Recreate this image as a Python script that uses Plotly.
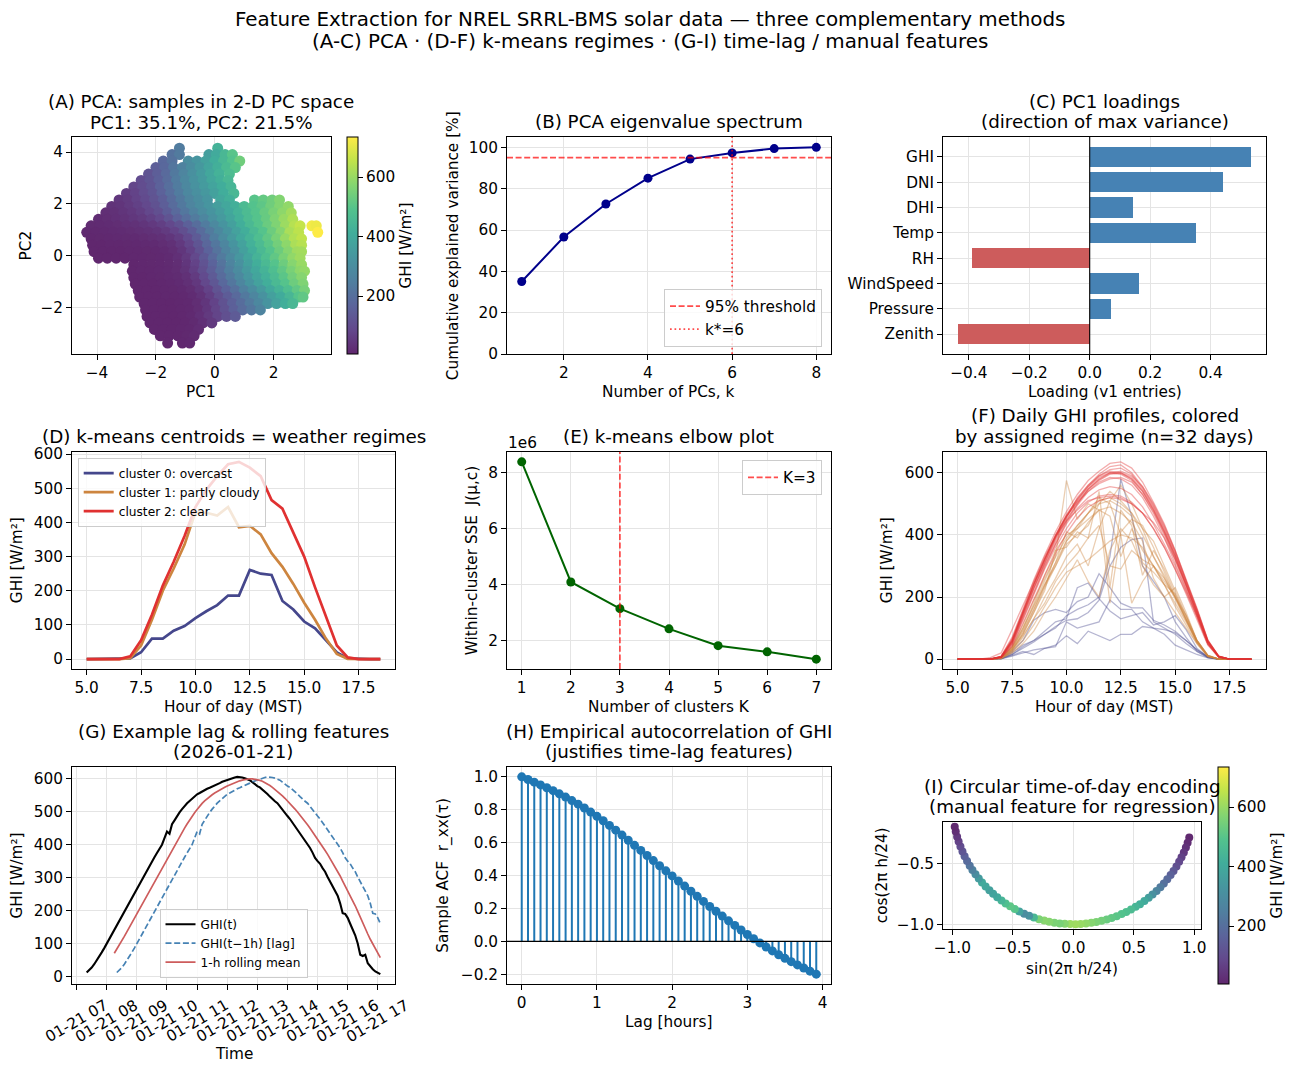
import numpy as np
import pandas as pd
import plotly.graph_objects as go

W, H = 1299, 1074
FONT = "DejaVu Sans"

# ---------------- (A) PCA scores (rows of PC2, points along PC1) ----------------
a_row_pc2 = [4.15, 3.9, 3.65, 3.4, 3.15, 2.9, 2.65, 2.4, 2.15, 1.9, 1.65, 1.4, 1.15, 0.9, 0.65, 0.4,
             0.15, -0.1, -0.35, -0.6, -0.85, -1.1, -1.35, -1.6, -1.85, -2.1, -2.35, -2.6, -2.85, -3.1, -3.38]
a_row_pc1 = [
    [-1.2, 0.1],
    [-1.45, -1.2, -0.2, 0.05, 0.35, 0.6],
    [-1.75, -1.45, -0.9, -0.6, -0.3, 0.0, 0.3, 0.6, 0.85],
    [-2.0, -1.7, -1.4, -1.1, -0.8, -0.5, -0.2, 0.1, 0.4, 0.7],
    [-2.25, -1.95, -1.65, -1.35, -1.05, -0.75, -0.45, -0.15, 0.15, 0.5],
    [-2.5, -2.2, -1.9, -1.6, -1.3, -1.0, -0.7, -0.4, -0.1, 0.2, 0.45],
    [-2.75, -2.45, -2.15, -1.85, -1.55, -1.25, -0.95, -0.65, -0.35, -0.05, 0.25, 0.55],
    [-3.0, -2.7, -2.4, -2.1, -1.8, -1.5, -1.2, -0.9, -0.6, -0.3, 0.0, 0.3, 0.65],
    [-3.25, -2.95, -2.65, -2.35, -2.05, -1.75, -1.45, -1.15, -0.85, -0.55, -0.25, 0.2, 0.5, 1.35, 1.65, 1.95, 2.2],
    [-3.5, -3.2, -2.9, -2.6, -2.3, -2.0, -1.7, -1.4, -1.1, -0.8, -0.5, -0.2, 0.1, 0.4, 0.7, 1.0, 1.3, 1.6, 1.9, 2.2, 2.5],
    [-3.7, -3.4, -3.1, -2.8, -2.5, -2.2, -1.9, -1.6, -1.3, -1.0, -0.7, -0.4, -0.1, 0.2, 0.5, 0.8, 1.1, 1.4, 1.7, 2.0, 2.3, 2.6],
    [-3.95, -3.65, -3.35, -3.05, -2.75, -2.45, -2.15, -1.85, -1.55, -1.25, -0.95, -0.65, -0.35, -0.05, 0.25, 0.55, 0.85, 1.15, 1.45, 1.75, 2.05, 2.35, 2.65],
    [-4.2, -3.9, -3.6, -3.3, -3.0, -2.7, -2.4, -2.1, -1.8, -1.5, -1.2, -0.9, -0.6, -0.3, 0.0, 0.3, 0.6, 0.9, 1.2, 1.5, 1.8, 2.1, 2.4, 2.7, 2.9, 3.3, 3.45],
    [-4.35, -4.05, -3.75, -3.45, -3.15, -2.85, -2.55, -2.25, -1.95, -1.65, -1.35, -1.05, -0.75, -0.45, -0.15, 0.15, 0.45, 0.75, 1.05, 1.35, 1.65, 1.95, 2.25, 2.55, 2.85, 3.5],
    [-4.2, -3.9, -3.6, -3.3, -3.0, -2.7, -2.4, -2.1, -1.8, -1.5, -1.2, -0.9, -0.6, -0.3, 0.0, 0.3, 0.6, 0.9, 1.2, 1.5, 1.8, 2.1, 2.4, 2.7, 2.95],
    [-4.15, -3.85, -3.55, -3.25, -2.95, -2.65, -2.35, -2.05, -1.75, -1.45, -1.15, -0.85, -0.55, -0.25, 0.05, 0.35, 0.65, 0.95, 1.25, 1.55, 1.85, 2.15, 2.45, 2.75, 2.95],
    [-4.1, -3.8, -3.5, -3.2, -2.9, -2.6, -2.3, -2.0, -1.7, -1.4, -1.1, -0.8, -0.5, -0.2, 0.1, 0.4, 0.7, 1.0, 1.3, 1.6, 1.9, 2.2, 2.5, 2.8, 2.95],
    [-3.95, -3.65, -3.35, -3.05, -2.75, -2.45, -2.15, -1.85, -1.55, -1.25, -0.95, -0.65, -0.35, -0.05, 0.25, 0.55, 0.85, 1.15, 1.45, 1.75, 2.05, 2.35, 2.65, 2.9],
    [-2.75, -2.45, -2.15, -1.85, -1.55, -1.25, -0.95, -0.65, -0.35, -0.05, 0.25, 0.55, 0.85, 1.15, 1.45, 1.75, 2.05, 2.35, 2.65, 2.95],
    [-2.8, -2.5, -2.2, -1.9, -1.6, -1.3, -1.0, -0.7, -0.4, -0.1, 0.2, 0.5, 0.8, 1.1, 1.4, 1.7, 2.0, 2.3, 2.6, 2.9, 3.05],
    [-2.75, -2.45, -2.15, -1.85, -1.55, -1.25, -0.95, -0.65, -0.35, -0.05, 0.25, 0.55, 0.85, 1.15, 1.45, 1.75, 2.05, 2.35, 2.65, 2.95],
    [-2.7, -2.4, -2.1, -1.8, -1.5, -1.2, -0.9, -0.6, -0.3, 0.0, 0.3, 0.6, 0.9, 1.2, 1.5, 1.8, 2.1, 2.4, 2.7, 3.0],
    [-2.6, -2.3, -2.0, -1.7, -1.4, -1.1, -0.8, -0.5, -0.2, 0.1, 0.4, 0.7, 1.0, 1.3, 1.6, 1.9, 2.2, 2.5, 2.8, 3.05],
    [-2.55, -2.25, -1.95, -1.65, -1.35, -1.05, -0.75, -0.45, -0.15, 0.15, 0.45, 0.75, 1.05, 1.35, 1.65, 1.95, 2.25, 2.55, 2.85, 3.0],
    [-2.4, -2.1, -1.8, -1.5, -1.2, -0.9, -0.6, -0.3, 0.0, 0.3, 0.6, 0.9, 1.2, 1.5, 1.8, 2.1, 2.4, 2.65],
    [-2.35, -2.05, -1.75, -1.45, -1.15, -0.85, -0.55, -0.25, 0.05, 0.35, 0.65, 0.95, 1.25, 1.55],
    [-2.3, -2.0, -1.7, -1.4, -1.1, -0.8, -0.5, -0.2, 0.1, 0.4, 0.7],
    [-2.2, -1.9, -1.6, -1.3, -1.0, -0.7, -0.4, -0.1],
    [-2.05, -1.75, -1.45, -1.15, -0.85, -0.55],
    [-1.85, -1.55, -1.25, -0.95, -0.7],
    [-1.6, -1.1, -0.85],
]
a_row_ghi = [
    [240, 430],
    [210, 235, 360, 400, 450, 500],
    [180, 210, 300, 330, 370, 410, 450, 490, 540],
    [150, 180, 220, 260, 300, 340, 380, 420, 460, 500],
    [120, 150, 185, 230, 270, 310, 350, 390, 430, 470],
    [100, 125, 155, 190, 240, 280, 320, 350, 390, 420, 450],
    [80, 100, 125, 160, 200, 240, 280, 320, 350, 380, 410, 440],
    [60, 75, 100, 125, 160, 200, 240, 280, 310, 340, 370, 410, 450],
    [45, 55, 75, 95, 120, 150, 190, 230, 270, 300, 330, 390, 420, 500, 520, 540, 570],
    [35, 40, 55, 70, 90, 115, 150, 190, 230, 270, 300, 330, 360, 390, 420, 460, 490, 510, 540, 570, 590],
    [25, 30, 40, 50, 65, 85, 110, 145, 185, 225, 260, 295, 325, 355, 395, 430, 465, 495, 525, 555, 585, 615],
    [18, 22, 28, 35, 45, 55, 70, 90, 120, 160, 200, 235, 275, 315, 345, 385, 425, 465, 495, 525, 565, 600, 630],
    [14, 15, 18, 22, 28, 32, 40, 50, 65, 85, 115, 155, 195, 240, 285, 325, 365, 415, 455, 495, 530, 565, 605, 640, 660, 720, 715],
    [10, 11, 13, 15, 18, 22, 26, 32, 40, 55, 75, 105, 145, 190, 235, 280, 325, 375, 415, 455, 495, 535, 575, 625, 650, 735],
    [8, 9, 10, 12, 14, 16, 19, 24, 30, 42, 62, 95, 140, 190, 245, 295, 345, 395, 435, 475, 515, 555, 600, 635, 655],
    [5, 6, 7, 8, 9, 11, 13, 16, 21, 30, 50, 80, 125, 175, 225, 275, 325, 375, 425, 465, 505, 545, 585, 625, 640],
    [5, 5, 6, 6, 7, 8, 9, 11, 15, 24, 42, 72, 115, 165, 215, 265, 315, 365, 415, 455, 495, 535, 575, 610, 615],
    [5, 5, 5, 6, 7, 8, 9, 11, 16, 28, 52, 88, 135, 185, 235, 285, 335, 385, 435, 475, 515, 555, 590, 610],
    [6, 7, 9, 11, 14, 22, 42, 75, 118, 165, 215, 265, 315, 365, 415, 455, 495, 535, 575, 600],
    [6, 7, 8, 10, 13, 19, 36, 65, 105, 150, 200, 250, 295, 345, 395, 435, 475, 515, 555, 585, 595],
    [5, 6, 7, 9, 12, 17, 30, 55, 95, 140, 190, 235, 285, 335, 385, 425, 465, 505, 545, 575],
    [5, 5, 6, 8, 11, 15, 26, 48, 85, 130, 180, 225, 275, 325, 375, 415, 455, 495, 535, 565],
    [5, 5, 6, 7, 9, 13, 22, 42, 75, 120, 165, 205, 255, 300, 345, 395, 435, 475, 515, 550],
    [5, 5, 6, 7, 8, 11, 18, 35, 65, 105, 145, 185, 230, 275, 320, 365, 405, 445, 495, 515],
    [5, 5, 6, 6, 8, 11, 22, 42, 75, 115, 155, 195, 235, 280, 325, 375, 415, 450],
    [5, 5, 5, 6, 7, 10, 22, 45, 78, 115, 155, 190, 225, 265],
    [5, 5, 5, 6, 7, 12, 28, 52, 78, 108, 140],
    [5, 5, 5, 6, 8, 14, 28, 52],
    [5, 5, 5, 7, 10, 20],
    [5, 5, 6, 9, 14],
    [5, 7, 10],
]

# ---------------- (B) PCA eigenvalue spectrum ----------------
n_pcs = [1, 2, 3, 4, 5, 6, 7, 8]
cum_var = [35.1, 56.6, 72.6, 85.1, 94.3, 97.3, 99.4, 100.0]
var_threshold = 95
k_star = 6

# ---------------- (C) PC1 loadings ----------------
features = ["GHI", "DNI", "DHI", "Temp", "RH", "WindSpeed", "Pressure", "Zenith"]
pc1_loadings = [0.535, 0.442, 0.143, 0.352, -0.388, 0.163, 0.071, -0.437]

# ---------------- (D) k-means centroids ----------------
hours_half = [5.0, 5.5, 6.0, 6.5, 7.0, 7.5, 8.0, 8.5, 9.0, 9.5, 10.0, 10.5, 11.0, 11.5,
              12.0, 12.5, 13.0, 13.5, 14.0, 14.5, 15.0, 15.5, 16.0, 16.5, 17.0, 17.5, 18.0, 18.5]
centroid_overcast = [0, 0, 0, 0, 2, 20, 60, 60, 83, 97, 120, 140, 158, 186, 186, 261, 250, 246, 170, 145, 110, 90, 55, 20, 2, 0, 0, 0]
centroid_partly = [0, 0, 0, 0, 3, 40, 115, 200, 265, 335, 430, 428, 420, 445, 386, 390, 365, 310, 270, 220, 165, 115, 60, 15, 1, 0, 0, 0]
centroid_clear = [0, 0, 0, 0, 8, 55, 130, 215, 285, 360, 445, 495, 535, 570, 577, 560, 535, 465, 440, 370, 300, 210, 125, 40, 5, 0, 0, 0]
regime_names = ["cluster 0: overcast", "cluster 1: partly cloudy", "cluster 2: clear"]

# ---------------- (E) elbow ----------------
k_values = [1, 2, 3, 4, 5, 6, 7]
sse_values = [8.38e6, 4.10e6, 3.15e6, 2.43e6, 1.83e6, 1.61e6, 1.35e6]
k_elbow = 3

# ---------------- (F) daily profiles by regime ----------------
days_overcast = [
    [0, 0, 0, 0, 3, 25, 60, 125, 150, 160, 150, 185, 200, 275, 230, 180, 165, 165, 125, 110, 90, 60, 30, 8, 1, 0, 0, 0],
    [0, 0, 0, 0, 2, 15, 35, 55, 80, 105, 125, 130, 150, 190, 300, 360, 385, 390, 120, 100, 80, 50, 25, 6, 0, 0, 0, 0],
    [0, 0, 0, 0, 1, 10, 20, 30, 35, 45, 75, 50, 90, 75, 60, 80, 80, 105, 100, 80, 45, 30, 15, 4, 0, 0, 0, 0],
    [0, 0, 0, 0, 2, 12, 25, 15, 35, 40, 120, 100, 110, 120, 190, 160, 160, 120, 100, 95, 85, 60, 30, 8, 0, 0, 0, 0],
    [0, 0, 0, 0, 2, 15, 40, 60, 90, 120, 130, 230, 245, 195, 155, 130, 140, 150, 110, 120, 140, 95, 35, 6, 0, 0, 0, 0],
    [0, 0, 0, 0, 3, 20, 45, 60, 80, 100, 140, 160, 175, 200, 330, 580, 460, 300, 250, 200, 120, 70, 25, 5, 0, 0, 0, 0],
]
days_partly = [
    [0, 0, 0, 0, 5, 40, 110, 190, 260, 330, 575, 450, 500, 480, 460, 330, 420, 350, 300, 240, 180, 120, 55, 10, 0, 0, 0, 0],
    [0, 0, 0, 0, 4, 35, 100, 170, 240, 300, 370, 400, 430, 500, 540, 510, 470, 400, 330, 260, 190, 120, 55, 10, 0, 0, 0, 0],
    [0, 0, 0, 0, 3, 30, 80, 150, 220, 350, 360, 410, 390, 540, 230, 480, 430, 270, 350, 290, 210, 130, 60, 12, 0, 0, 0, 0],
    [0, 0, 0, 0, 4, 35, 90, 160, 240, 310, 380, 430, 470, 520, 500, 400, 180, 250, 300, 250, 200, 140, 60, 12, 0, 0, 0, 0],
    [0, 0, 0, 0, 3, 25, 70, 130, 200, 260, 330, 370, 300, 420, 510, 560, 500, 420, 380, 300, 220, 140, 60, 10, 0, 0, 0, 0],
    [0, 0, 0, 0, 4, 40, 100, 180, 270, 350, 400, 420, 450, 480, 490, 470, 440, 380, 260, 200, 230, 150, 60, 12, 0, 0, 0, 0],
    [0, 0, 0, 0, 2, 20, 50, 90, 150, 200, 260, 320, 250, 200, 350, 420, 380, 300, 240, 200, 150, 100, 50, 8, 0, 0, 0, 0],
    [0, 0, 0, 0, 3, 30, 80, 150, 230, 300, 380, 420, 470, 510, 520, 500, 470, 420, 330, 270, 200, 130, 55, 10, 0, 0, 0, 0],
    [0, 0, 0, 0, 3, 28, 75, 130, 180, 250, 300, 340, 390, 430, 300, 290, 350, 320, 300, 260, 200, 130, 55, 10, 0, 0, 0, 0],
    [0, 0, 0, 0, 4, 35, 95, 175, 250, 330, 390, 430, 470, 500, 510, 490, 460, 310, 280, 240, 210, 140, 60, 12, 0, 0, 0, 0],
    [0, 0, 0, 0, 2, 22, 60, 110, 170, 230, 280, 300, 320, 350, 380, 400, 390, 360, 300, 240, 170, 110, 50, 8, 0, 0, 0, 0],
    [0, 0, 0, 0, 3, 30, 85, 160, 240, 310, 410, 390, 440, 480, 180, 410, 450, 430, 360, 280, 200, 130, 58, 10, 0, 0, 0, 0],
]
days_clear = [
    [0, 0, 0, 0, 8, 60, 150, 240, 320, 395, 460, 510, 555, 590, 610, 615, 595, 550, 490, 420, 340, 250, 160, 60, 10, 0, 0, 0],
    [0, 0, 0, 0, 6, 55, 140, 230, 310, 385, 450, 500, 545, 575, 595, 600, 580, 540, 480, 410, 330, 240, 150, 55, 8, 0, 0, 0],
    [0, 0, 0, 0, 10, 70, 160, 255, 335, 410, 475, 530, 575, 605, 630, 635, 615, 570, 505, 435, 350, 260, 165, 62, 10, 0, 0, 0],
    [0, 0, 0, 5, 20, 95, 170, 250, 330, 400, 465, 515, 555, 585, 600, 595, 575, 530, 470, 400, 320, 230, 140, 50, 6, 0, 0, 0],
    [0, 0, 0, 0, 5, 45, 125, 210, 290, 360, 420, 470, 505, 525, 530, 525, 505, 470, 420, 360, 290, 210, 130, 45, 6, 0, 0, 0],
    [0, 0, 0, 0, 6, 50, 135, 220, 300, 370, 435, 485, 520, 545, 555, 550, 530, 490, 435, 370, 300, 220, 140, 50, 7, 0, 0, 0],
    [0, 0, 0, 0, 8, 60, 150, 240, 320, 400, 460, 505, 540, 565, 580, 585, 570, 530, 475, 405, 325, 240, 150, 55, 8, 0, 0, 0],
    [0, 0, 0, 0, 7, 55, 145, 230, 310, 390, 455, 520, 560, 590, 605, 600, 585, 545, 485, 415, 335, 245, 155, 58, 9, 0, 0, 0],
    [0, 0, 0, 0, 9, 65, 155, 245, 325, 395, 445, 480, 510, 520, 525, 520, 500, 470, 440, 390, 320, 240, 150, 55, 8, 0, 0, 0],
    [0, 0, 0, 0, 7, 58, 148, 238, 318, 392, 458, 508, 548, 578, 598, 605, 590, 555, 500, 430, 350, 255, 160, 60, 10, 0, 0, 0],
    [0, 0, 0, 0, 6, 48, 130, 215, 295, 370, 440, 495, 540, 570, 585, 580, 560, 520, 460, 390, 310, 225, 140, 50, 7, 0, 0, 0],
    [0, 0, 0, 0, 8, 62, 152, 242, 322, 398, 462, 515, 560, 595, 620, 625, 600, 555, 495, 425, 345, 255, 160, 60, 10, 0, 0, 0],
    [0, 0, 0, 0, 5, 40, 115, 195, 270, 340, 405, 455, 490, 510, 520, 515, 500, 470, 420, 360, 290, 215, 135, 48, 6, 0, 0, 0],
    [0, 0, 0, 0, 7, 52, 140, 228, 305, 378, 445, 500, 548, 580, 600, 598, 580, 540, 480, 410, 332, 242, 152, 56, 8, 0, 0, 0],
]

# ---------------- (G) example day (5-min GHI) ----------------
g_day_label = "2026-01-21"
g_start = "2026-01-21 07:20"
g_step_min = 5
g_lag_steps = 12      # 1 h
g_roll_steps = 12     # 1 h
ghi_g = [12, 19, 27, 37, 48, 60, 73, 86,
         100, 114, 128, 142, 156, 170, 184, 198, 212, 226, 240, 254,
         268, 282, 296, 310, 323, 336, 349, 362, 375, 388, 400, 420,
         440, 433, 462, 474, 488, 498, 508, 518, 526, 533, 540, 547,
         553, 557, 562, 566, 570, 573, 576, 580, 584, 587, 591, 594,
         597, 600, 602, 604, 606, 606, 604, 602, 600, 596, 590, 583,
         578, 574, 568, 561, 554, 546, 538, 532, 526, 516, 505, 494,
         487, 478, 467, 456, 447, 437, 426, 414, 402, 390, 376, 360,
         350, 342, 329, 318, 302, 288, 270, 258, 245, 222, 192, 190,
         178, 160, 145, 125, 100, 66, 62, 66, 40, 30, 22, 15,
         10, 7]
g_tick_hours = [7, 8, 9, 10, 11, 12, 13, 14, 15, 16, 17]

# ---------------- (H) autocorrelation ----------------
lag_minutes = [0, 5, 10, 15, 20, 25, 30, 35, 40, 45, 50, 55,
               60, 65, 70, 75, 80, 85, 90, 95, 100, 105, 110, 115,
               120, 125, 130, 135, 140, 145, 150, 155, 160, 165, 170, 175,
               180, 185, 190, 195, 200, 205, 210, 215, 220, 225, 230, 235]
acf_vals = [1.000, 0.984, 0.968, 0.951, 0.934, 0.916, 0.897, 0.877, 0.856, 0.834, 0.811, 0.786,
            0.760, 0.733, 0.705, 0.676, 0.646, 0.615, 0.584, 0.553, 0.522, 0.491, 0.460, 0.429,
            0.398, 0.367, 0.336, 0.305, 0.274, 0.243, 0.212, 0.183, 0.154, 0.125, 0.097, 0.069,
            0.042, 0.016, -0.009, -0.034, -0.058, -0.081, -0.103, -0.123, -0.143, -0.162, -0.181, -0.199]

# ---------------- (I) circular time-of-day encoding ----------------
hours_i = [7.10, 7.27, 7.43, 7.60, 7.77, 7.93, 8.10, 8.27, 8.43, 8.60, 8.77, 8.93,
           9.10, 9.27, 9.43, 9.60, 9.77, 9.93, 10.10, 10.27, 10.43, 10.60, 10.77, 10.93,
           11.10, 11.27, 11.43, 11.60, 11.77, 11.93, 12.10, 12.27, 12.43, 12.60, 12.77, 12.93,
           13.10, 13.27, 13.43, 13.60, 13.77, 13.93, 14.10, 14.27, 14.43, 14.60, 14.77, 14.93,
           15.10, 15.27, 15.43, 15.60, 15.77, 15.93, 16.10, 16.27, 16.43, 16.60, 16.77, 16.93,
           17.10, 17.25]
ghi_i = [10, 20, 35, 50, 70, 90, 110, 135, 160, 185, 205, 235,
         270, 310, 360, 400, 420, 440, 465, 480, 490, 505, 515, 530,
         545, 560, 575, 590, 600, 610, 605, 575, 555, 560, 575, 580,
         560, 450, 320, 300, 380, 500, 510, 480, 440, 400, 380, 370,
         390, 400, 350, 300, 260, 220, 190, 160, 130, 100, 75, 50,
         25, 10]

# =====================================================================
def blend(hexc, a=0.85):
    hexc = hexc.lstrip("#")
    r, g, b = (int(hexc[i:i + 2], 16) for i in (0, 2, 4))
    return "rgb(%d,%d,%d)" % tuple(round(a * c + (1 - a) * 255) for c in (r, g, b))


VIRIDIS = ["#440154", "#482878", "#3e4989", "#31688e", "#26828e",
           "#1f9e89", "#35b779", "#6ece58", "#b5de2b", "#fde725"]
VIR_FADED = [[i / (len(VIRIDIS) - 1), blend(c, 0.85)] for i, c in enumerate(VIRIDIS)]

C_OVER, C_PART, C_CLEAR = "#45478c", "#cd853f", "#e03131"

FS_TICK = 15.3
FS_TITLE = 18.3
FS_SUP = 19.9
FS_LEG_S = 12.2


def rgba(hexc, a):
    hexc = hexc.lstrip("#")
    r, g, b = (int(hexc[i:i + 2], 16) for i in (0, 2, 4))
    return "rgba(%d,%d,%d,%.2f)" % (r, g, b, a)


def pad(lo, hi, f=0.05):
    d = (hi - lo) * f
    return [lo - d, hi + d]


def xd(l, r):
    return [l / W, r / W]


def yd(t, b):
    return [1 - b / H, 1 - t / H]


TICKFONT = dict(family=FONT, size=FS_TICK, color="black")


def axis(domain, rng, anchor, **kw):
    d = dict(domain=domain, range=rng, anchor=anchor, showline=True, linecolor="black",
             linewidth=1.1, mirror=True, ticks="outside", ticklen=4.9, tickwidth=1.1,
             tickcolor="black", showgrid=True, gridcolor="#e4e4e4", gridwidth=1,
             zeroline=False, tickfont=TICKFONT, automargin=False, fixedrange=True)
    d.update(kw)
    return d


def cbar(left, top, bot):
    return dict(x=left / W, xanchor="left", y=1 - (top + bot) / 2 / H, yanchor="middle",
                len=(bot - top) / H, lenmode="fraction", thickness=11, thicknessmode="pixels",
                xpad=0, ypad=0, outlinecolor="black", outlinewidth=1, ticks="outside",
                ticklen=4.9, tickwidth=1.1, tickcolor="black", tick0=0, dtick=200,
                tickfont=TICKFONT,
                title=dict(text="GHI [W/m²]", side="right", font=TICKFONT))


fig = go.Figure()

# ---- A ----
pc1_a = [x for row in a_row_pc1 for x in row]
pc2_a = [y for y, row in zip(a_row_pc2, a_row_pc1) for _ in row]
ghi_a = [g for row in a_row_ghi for g in row]
gmin, gmax = min(ghi_a), max(ghi_a)
fig.add_trace(go.Scatter(x=pc1_a, y=pc2_a, mode="markers", xaxis="x", yaxis="y", showlegend=False,
                         marker=dict(color=ghi_a, colorscale=VIR_FADED, cmin=gmin, cmax=gmax, size=11,
                                     line=dict(width=0), colorbar=cbar(347, 137, 354))))

# ---- B ----
fig.add_trace(go.Scatter(x=n_pcs, y=cum_var, mode="lines+markers", xaxis="x2", yaxis="y2",
                         showlegend=False, line=dict(color="#00008b", width=2),
                         marker=dict(color="#00008b", size=9)))

# ---- C ----
bar_colors = ["#4682b4" if v >= 0 else "#cd5c5c" for v in pc1_loadings]
fig.add_trace(go.Bar(x=pc1_loadings, y=list(range(len(features))), orientation="h", width=0.8,
                     marker=dict(color=bar_colors, line=dict(width=0)), xaxis="x3", yaxis="y3",
                     showlegend=False))

# ---- D ----
for vals, name, col in zip([centroid_overcast, centroid_partly, centroid_clear], regime_names,
                           [C_OVER, C_PART, C_CLEAR]):
    fig.add_trace(go.Scatter(x=hours_half, y=vals, mode="lines", name=name, xaxis="x4", yaxis="y4",
                             line=dict(color=col, width=2.7), legend="legend2"))

# ---- E ----
fig.add_trace(go.Scatter(x=k_values, y=sse_values, mode="lines+markers", xaxis="x5", yaxis="y5",
                         showlegend=False, line=dict(color="#006400", width=2),
                         marker=dict(color="#006400", size=9)))

# ---- F ----
for days, col in [(days_overcast, C_OVER), (days_partly, C_PART), (days_clear, C_CLEAR)]:
    for d in days:
        fig.add_trace(go.Scatter(x=hours_half, y=d, mode="lines", xaxis="x6", yaxis="y6",
                                 showlegend=False, line=dict(color=rgba(col, 0.4), width=1.3)))
n_days = len(days_overcast) + len(days_partly) + len(days_clear)

# ---- G ----
t_g = pd.date_range(g_start, periods=len(ghi_g), freq="%dmin" % g_step_min)
s_g = pd.Series(ghi_g, index=t_g, dtype=float)
lag_g = s_g.shift(g_lag_steps)
roll_g = s_g.rolling(g_roll_steps).mean()
fig.add_trace(go.Scatter(x=t_g, y=s_g.values, mode="lines", name="GHI(t)", xaxis="x7", yaxis="y7",
                         line=dict(color="black", width=2.1), legend="legend4"))
fig.add_trace(go.Scatter(x=t_g, y=lag_g.values, mode="lines", name="GHI(t−1h) [lag]", xaxis="x7",
                         yaxis="y7", line=dict(color="#4682b4", width=1.7, dash="6px,2.7px"),
                         legend="legend4"))
fig.add_trace(go.Scatter(x=t_g, y=roll_g.values, mode="lines", name="1-h rolling mean", xaxis="x7",
                         yaxis="y7", line=dict(color="#cd5c5c", width=1.7), legend="legend4"))
span = t_g[-1] - t_g[0]
g_xr = [t_g[0] - span * 0.05, t_g[-1] + span * 0.05]
g_ticks = [pd.Timestamp(g_day_label) + pd.Timedelta(hours=h) for h in g_tick_hours]

# ---- H ----
lag_h = [m / 60 for m in lag_minutes]
stem_x, stem_y = [], []
for x, v in zip(lag_h, acf_vals):
    stem_x += [x, x, None]
    stem_y += [0, v, None]
fig.add_trace(go.Scatter(x=stem_x, y=stem_y, mode="lines", xaxis="x8", yaxis="y8", showlegend=False,
                         line=dict(color="#1f77b4", width=2)))
fig.add_trace(go.Scatter(x=lag_h, y=acf_vals, mode="markers", xaxis="x8", yaxis="y8", showlegend=False,
                         marker=dict(color="#1f77b4", size=9)))

# ---- I ----
sin_i = [float(np.sin(2 * np.pi * h / 24)) for h in hours_i]
cos_i = [float(np.cos(2 * np.pi * h / 24)) for h in hours_i]
fig.add_trace(go.Scatter(x=sin_i, y=cos_i, mode="markers", xaxis="x9", yaxis="y9", showlegend=False,
                         marker=dict(color=ghi_i, colorscale=VIR_FADED, cmin=gmin, cmax=gmax, size=8,
                                     line=dict(width=0), colorbar=cbar(1218, 767, 984))))

# ---------------- layout: axes ----------------
lay = dict(
    xaxis=axis(xd(72, 331), [-4.85, 3.95], "y", dtick=2),
    yaxis=axis(yd(137, 354), [-3.80, 4.58], "x", dtick=2),
    xaxis2=axis(xd(507, 831), pad(min(n_pcs), max(n_pcs)), "y2", dtick=2),
    yaxis2=axis(yd(137, 354), [0, 105], "x2", dtick=20),
    xaxis3=axis(xd(943, 1266), pad(min(pc1_loadings), max(pc1_loadings)), "y3", dtick=0.2, tickformat=".1f"),
    yaxis3=axis(yd(137, 354), [len(features) - 0.6 + 0.39, -0.4 - 0.39], "x3",
                tickvals=list(range(len(features))), ticktext=features),
    xaxis4=axis(xd(72, 395), pad(hours_half[0], hours_half[-1]), "y4", tick0=5, dtick=2.5, tickformat=".1f"),
    yaxis4=axis(yd(452, 669), pad(0, max(centroid_clear)), "x4", dtick=100),
    xaxis5=axis(xd(507, 831), pad(min(k_values), max(k_values)), "y5", dtick=1),
    yaxis5=axis(yd(452, 669), pad(min(sse_values), max(sse_values)), "x5",
                tickvals=[2e6, 4e6, 6e6, 8e6], ticktext=["2", "4", "6", "8"]),
    xaxis6=axis(xd(943, 1266), pad(hours_half[0], hours_half[-1]), "y6", tick0=5, dtick=2.5, tickformat=".1f"),
    yaxis6=axis(yd(452, 669), pad(0, max(max(d) for d in days_overcast + days_partly + days_clear)), "x6", dtick=200),
    xaxis7=axis(xd(72, 395), g_xr, "y7", type="date", tickvals=g_ticks, showticklabels=False),
    yaxis7=axis(yd(767, 984), pad(min(ghi_g), max(ghi_g)), "x7", dtick=100),
    xaxis8=axis(xd(507, 831), pad(min(lag_h), max(lag_h)), "y8", dtick=1),
    yaxis8=axis(yd(767, 984), pad(min(acf_vals), max(acf_vals)), "x8", dtick=0.2, tickformat=".1f"),
    xaxis9=axis(xd(943, 1201), pad(min(sin_i), max(sin_i)), "y9", dtick=0.5, tickformat=".1f"),
    yaxis9=axis(yd(822, 929), pad(min(cos_i), max(cos_i)), "x9", tickvals=[-1.0, -0.5], tickformat=".1f"),
)

# ---------------- reference lines ----------------
shapes = [
    dict(type="line", xref="x2 domain", yref="y2", x0=0, x1=1, y0=var_threshold, y1=var_threshold,
         line=dict(color="rgba(255,0,0,0.7)", width=1.7, dash="6px,2.6px"),
         showlegend=True, name="95% threshold", legend="legend"),
    dict(type="line", xref="x2", yref="y2 domain", x0=k_star, x1=k_star, y0=0, y1=1,
         line=dict(color="rgba(255,0,0,0.7)", width=1.7, dash="1.7px,2.8px"),
         showlegend=True, name="k*=%d" % k_star, legend="legend"),
    dict(type="line", xref="x3", yref="y3 domain", x0=0, x1=0, y0=0, y1=1,
         line=dict(color="black", width=1.1)),
    dict(type="line", xref="x5", yref="y5 domain", x0=k_elbow, x1=k_elbow, y0=0, y1=1,
         line=dict(color="rgba(255,0,0,0.7)", width=1.7, dash="6px,2.6px"),
         showlegend=True, name="K=%d" % k_elbow, legend="legend3"),
    dict(type="line", xref="x8 domain", yref="y8", x0=0, x1=1, y0=0, y1=0,
         line=dict(color="black", width=1.1)),
]

# ---------------- text ----------------
annotations = []


def ann(text, px, py, size=FS_TICK, angle=0, xanchor="center", yanchor="middle", xref="paper", xval=None):
    annotations.append(dict(text=text, x=(px / W) if xval is None else xval, y=1 - py / H,
                            xref=xref, yref="paper", showarrow=False, textangle=angle,
                            xanchor=xanchor, yanchor=yanchor,
                            font=dict(family=FONT, size=size, color="black")))


T = FS_TITLE
ann("Feature Extraction for NREL SRRL-BMS solar data — three complementary methods", 649.5, 19, FS_SUP)
ann("(A-C) PCA · (D-F) k-means regimes · (G-I) time-lag / manual features", 649.5, 41, FS_SUP)
ann("(A) PCA: samples in 2-D PC space", 201.5, 101.7, T)
ann("PC1: %.1f%%, PC2: %.1f%%" % (cum_var[0], cum_var[1] - cum_var[0]), 201.5, 122.3, T)
ann("(B) PCA eigenvalue spectrum", 669, 121.7, T)
ann("(C) PC1 loadings", 1104.5, 101.7, T)
ann("(direction of max variance)", 1104.5, 121.7, T)
ann("(D) k-means centroids = weather regimes", 233.5, 436.7, T)
ann("(E) k-means elbow plot", 669, 436.7, T)
ann("(F) Daily GHI profiles, colored", 1104.5, 415.5, T)
ann("by assigned regime (n=%d days)" % n_days, 1104.5, 436.7, T)
ann("(G) Example lag &amp; rolling features", 233.5, 731, T)
ann("(%s)" % g_day_label, 233.5, 751.7, T)
ann("(H) Empirical autocorrelation of GHI", 669, 731, T)
ann("(justifies time-lag features)", 669, 751.7, T)
ann("(I) Circular time-of-day encoding", 1072, 786.7, T)
ann("(manual feature for regression)", 1072, 806.7, T)

ann("PC1", 201.5, 391.7)
ann("PC2", 25, 245.5, angle=-90)
ann("Number of PCs, k", 669, 391.7)
ann("Cumulative explained variance [%]", 452.7, 245.5, angle=-90)
ann("Loading (v1 entries)", 1104.5, 391.7)
ann("Hour of day (MST)", 233.5, 706.7)
ann("GHI [W/m²]", 16.7, 560.5, angle=-90)
ann("Number of clusters K", 669, 706.7)
ann("Within-cluster SSE\u00a0 J(μ,c)", 471.7, 560.5, angle=-90)
ann("1e6", 522, 442.7)
ann("Hour of day (MST)", 1104.5, 706.7)
ann("GHI [W/m²]", 886.7, 560.5, angle=-90)
ann("Time", 233.5, 1054.3)
ann("GHI [W/m²]", 16, 875.5, angle=-90)
ann("Lag [hours]", 669, 1021.7)
ann("Sample ACF\u00a0 r_xx(τ)", 443.3, 875.5, angle=-90)
ann("sin(2π h/24)", 1072, 969)
ann("cos(2π h/24)", 881.7, 875.5, angle=-90)

for tk in g_ticks:
    ann(tk.strftime("%m-%d %H"), 0, 993, angle=-30, yanchor="top", xref="x7", xval=tk)

LEG = dict(bgcolor="rgba(255,255,255,0.8)", bordercolor="#cccccc", borderwidth=1)
lay.update(
    width=W, height=H, margin=dict(l=0, r=0, t=0, b=0, pad=0),
    paper_bgcolor="white", plot_bgcolor="white",
    font=dict(family=FONT, size=FS_TICK, color="black"),
    shapes=shapes, annotations=annotations, bargap=0,
    legend=dict(x=822 / W, xanchor="right", y=1 - 346.7 / H, yanchor="bottom",
                font=dict(family=FONT, size=FS_TICK, color="black"), **LEG),
    legend2=dict(x=77.7 / W, xanchor="left", y=1 - 457.7 / H, yanchor="top",
                 font=dict(family=FONT, size=FS_LEG_S, color="black"), **LEG),
    legend3=dict(x=822 / W, xanchor="right", y=1 - 460 / H, yanchor="top",
                 font=dict(family=FONT, size=FS_TICK, color="black"), **LEG),
    legend4=dict(x=233.5 / W, xanchor="center", y=1 - 977.7 / H, yanchor="bottom",
                 font=dict(family=FONT, size=FS_LEG_S, color="black"), **LEG),
)
fig.update_layout(**lay)

fig.write_html("out.html", config={"displayModeBar": False},
               post_script="document.body.style.margin='0px';document.body.style.overflow='hidden';")
